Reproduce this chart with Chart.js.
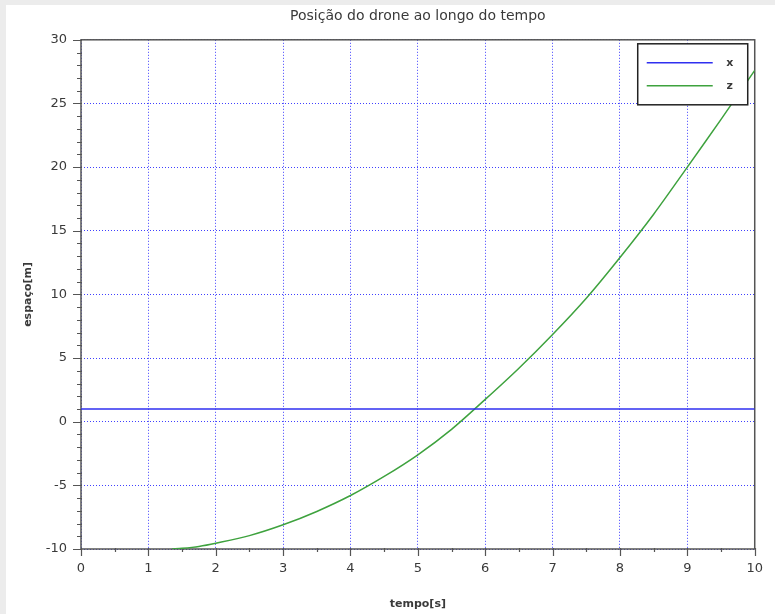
<!DOCTYPE html>
<html>
<head>
<meta charset="utf-8">
<script src="https://cdn.jsdelivr.net/npm/chart.js@4/dist/chart.umd.min.js"></script>
<style>
  html, body { margin: 0; padding: 0; background: #ffffff; }
  #wrap { width: 775px; height: 614px; }
</style>
</head>
<body>
<div id="wrap"><canvas id="c" width="775" height="614"></canvas></div>
<script>
// Posição do drone: x constante, z em função do tempo
const tempoX = [0, 10];
const valoresX = [1, 1];

const tempoZ = [1.35, 1.5, 1.75, 2, 2.5, 3, 3.5, 4, 4.5, 5, 5.5, 6, 6.5, 7, 7.5, 8, 8.5, 9, 9.5, 10];
const valoresZ = [-10, -9.95, -9.8, -9.55, -8.95, -8.1, -7.05, -5.8, -4.3, -2.6, -0.6, 1.75, 4.2, 6.85, 9.7, 12.9, 16.3, 20.0, 23.75, 27.6];

const nomesSeries = ['x', 'z'];
const coresSeries = ['#2f2ff0', '#3ea23e'];

const tituloGrafico = 'Posição do drone ao longo do tempo';
const tituloEixoX = 'tempo[s]';
const tituloEixoY = 'espaço[m]';

const FONT = '"DejaVu Sans", Verdana, sans-serif';
const AXIS_COLOR = '#555555';
const TEXT_COLOR = '#3a3a3a';
const GRID_COLOR = 'rgba(30,30,255,0.85)';

function pares(xs, ys) { return xs.map((v, i) => ({ x: v, y: ys[i] })); }

// Fundo da janela: faixa cinza à esquerda e no topo
const fundo = {
  id: 'fundo',
  beforeDraw(chart) {
    const ctx = chart.ctx;
    ctx.save();
    ctx.fillStyle = '#ececec';
    ctx.fillRect(0, 0, chart.width, chart.height);
    ctx.fillStyle = '#ffffff';
    ctx.fillRect(6, 5, chart.width - 6, chart.height - 5);
    ctx.restore();
  }
};

// Moldura dos eixos com marcas principais e secundárias
const moldura = {
  id: 'moldura',
  beforeDatasetsDraw(chart) {
    const { ctx, chartArea: a, scales } = chart;
    const xs = scales.x, ys = scales.y;
    ctx.save();
    ctx.strokeStyle = AXIS_COLOR;
    ctx.lineWidth = 1.5;
    ctx.strokeRect(a.left, a.top, a.right - a.left, a.bottom - a.top);
    ctx.lineWidth = 1.2;
    ctx.beginPath();
    // eixo x: marcas a cada 1 e secundárias a cada 0.5
    for (let v = xs.min; v <= xs.max + 1e-9; v += 0.5) {
      const px = Math.round(xs.getPixelForValue(v)) + 0.5;
      const major = Math.abs(v - Math.round(v)) < 1e-9;
      ctx.moveTo(px, a.bottom - 1);
      ctx.lineTo(px, a.bottom + (major ? 7 : 3));
    }
    // eixo y: marcas a cada 5 e secundárias a cada 1
    for (let v = ys.min; v <= ys.max + 1e-9; v += 1) {
      const py = Math.round(ys.getPixelForValue(v)) + 0.5;
      const major = Math.abs(v % 5) < 1e-9;
      ctx.moveTo(a.left + 1, py);
      ctx.lineTo(a.left - (major ? 8 : 4), py);
    }
    ctx.stroke();
    ctx.restore();
  }
};

// Legenda com amostra de linha e rótulo
const legendaLinhas = {
  id: 'legendaLinhas',
  afterDatasetsDraw(chart) {
    const { ctx, chartArea: a } = chart;
    const right = a.right - 7, top = a.top + 4;
    const w = 110, h = 61;
    const left = right - w;
    ctx.save();
    ctx.fillStyle = '#ffffff';
    ctx.fillRect(left, top, w, h);
    ctx.strokeStyle = '#222222';
    ctx.lineWidth = 1.5;
    ctx.strokeRect(left, top, w, h);
    chart.data.datasets.forEach((ds, i) => {
      const y = top + 19 + i * 23;
      ctx.strokeStyle = ds.borderColor;
      ctx.lineWidth = 1.5;
      ctx.beginPath();
      ctx.moveTo(left + 9, y);
      ctx.lineTo(left + 75, y);
      ctx.stroke();
      ctx.fillStyle = TEXT_COLOR;
      ctx.font = 'bold 11px ' + FONT;
      ctx.textAlign = 'center';
      ctx.textBaseline = 'middle';
      ctx.fillText(ds.label, left + 92, y);
    });
    ctx.restore();
  }
};

new Chart(document.getElementById('c'), {
  type: 'scatter',
  data: {
    datasets: [
      {
        label: nomesSeries[0],
        data: pares(tempoX, valoresX),
        showLine: true,
        borderColor: coresSeries[0],
        borderWidth: 1.5,
        pointRadius: 0,
        pointHoverRadius: 0,
        fill: false
      },
      {
        label: nomesSeries[1],
        data: pares(tempoZ, valoresZ),
        showLine: true,
        borderColor: coresSeries[1],
        borderWidth: 1.5,
        pointRadius: 0,
        pointHoverRadius: 0,
        tension: 0.3,
        fill: false
      }
    ]
  },
  options: {
    responsive: false,
    animation: false,
    events: [],
    layout: { padding: { top: 0, left: 0, right: 20, bottom: 0 } },
    plugins: {
      legend: { display: false },
      tooltip: { enabled: false },
      title: {
        display: true,
        fullSize: false,
        text: tituloGrafico,
        color: TEXT_COLOR,
        font: { family: FONT, size: 14, weight: 'normal' },
        padding: { top: 8, bottom: 15 }
      }
    },
    scales: {
      x: {
        type: 'linear',
        min: 0,
        max: 10,
        afterFit(scale) { scale.height = 65; },
        ticks: {
          stepSize: 1,
          color: TEXT_COLOR,
          padding: 12,
          maxRotation: 0,
          font: { family: FONT, size: 13 }
        },
        grid: {
          color: GRID_COLOR,
          lineWidth: 1,
          drawTicks: false
        },
        border: { display: false, dash: [1, 2] },
        title: {
          display: true,
          text: tituloEixoX,
          color: TEXT_COLOR,
          font: { family: FONT, size: 11, weight: 'bold' },
          padding: { top: 3, bottom: 3 }
        }
      },
      y: {
        type: 'linear',
        min: -10,
        max: 30,
        afterFit(scale) { scale.width = 81; },
        ticks: {
          stepSize: 5,
          color: TEXT_COLOR,
          padding: 14,
          font: { family: FONT, size: 13 }
        },
        grid: {
          color: GRID_COLOR,
          lineWidth: 1,
          drawTicks: false
        },
        border: { display: false, dash: [1, 2] },
        title: {
          display: true,
          text: tituloEixoY,
          color: TEXT_COLOR,
          font: { family: FONT, size: 11, weight: 'bold' },
          padding: { top: 22, bottom: 3 }
        }
      }
    }
  },
  plugins: [fundo, moldura, legendaLinhas]
});
</script>
</body>
</html>
